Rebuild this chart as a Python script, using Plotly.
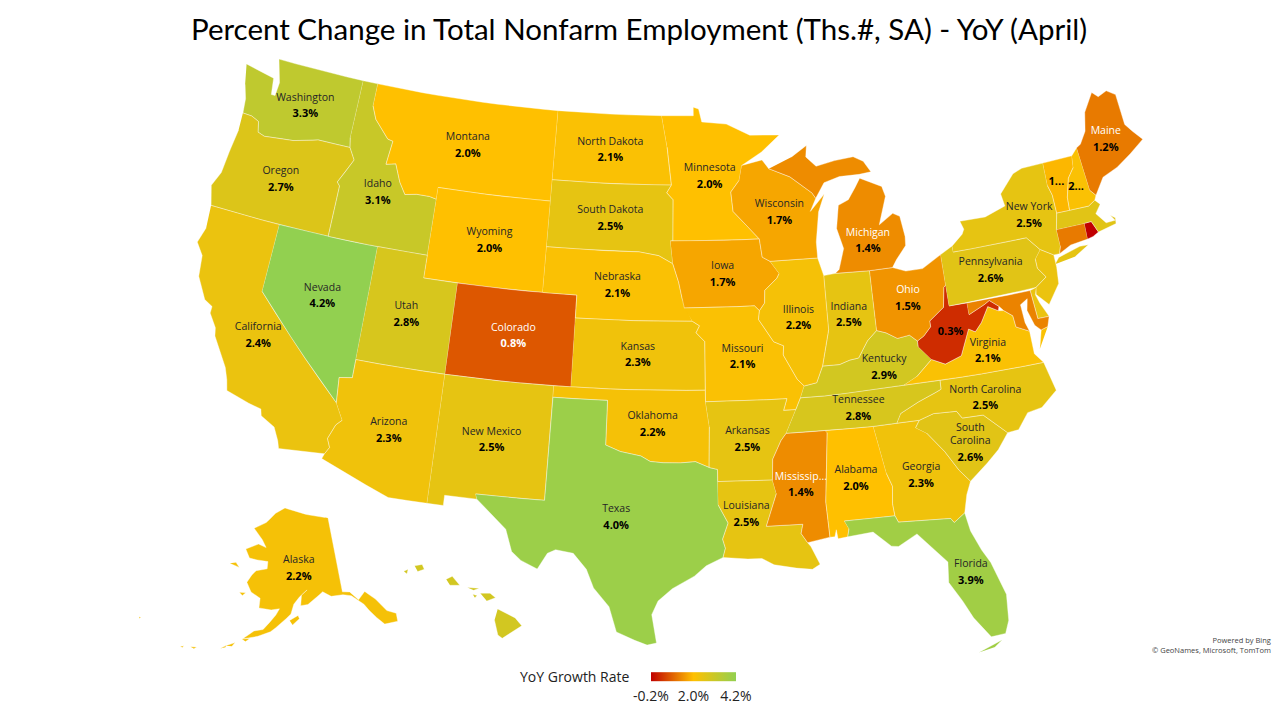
import math
import plotly.graph_objects as go
from plotly.colors import sample_colorscale

# YoY growth by state (small states estimated from their fill)
state_values = {
    "Alabama": 2.0, "Alaska": 2.2, "Arizona": 2.3, "Arkansas": 2.5, "California": 2.4,
    "Colorado": 0.8, "Connecticut": 1.2, "Delaware": 2.4, "Florida": 3.9, "Georgia": 2.3,
    "Hawaii": 2.9, "Idaho": 3.1, "Illinois": 2.2, "Indiana": 2.5, "Iowa": 1.7,
    "Kansas": 2.3, "Kentucky": 2.9, "Louisiana": 2.5, "Maine": 1.2, "Maryland": 1.3,
    "Massachusetts": 2.6, "Michigan": 1.4, "Minnesota": 2.0, "Mississippi": 1.4,
    "Missouri": 2.1, "Montana": 2.0, "Nebraska": 2.1, "Nevada": 4.2, "New Hampshire": 2.1,
    "New Jersey": 2.4, "New Mexico": 2.5, "New York": 2.5, "North Carolina": 2.5,
    "North Dakota": 2.1, "Ohio": 1.5, "Oklahoma": 2.2, "Oregon": 2.7, "Pennsylvania": 2.6,
    "Rhode Island": -0.2, "South Carolina": 2.6, "South Dakota": 2.5, "Tennessee": 2.8,
    "Texas": 4.0, "Utah": 2.8, "Vermont": 1.9, "Virginia": 2.1, "Washington": 3.3,
    "West Virginia": 0.3, "Wisconsin": 1.7, "Wyoming": 2.0,
}

# where each label sits (lon, lat)
label_anchors = {
    "Washington": (-120.3, 47.3), "Oregon": (-120.6, 43.9), "California": (-119.6, 37.1),
    "Nevada": (-116.6, 39.4), "Idaho": (-114.65, 44.3), "Montana": (-109.6, 47.0),
    "Wyoming": (-107.5, 43.0), "Utah": (-111.7, 39.3), "Colorado": (-105.5, 39.0),
    "Arizona": (-111.6, 34.2), "New Mexico": (-106.1, 34.4), "North Dakota": (-100.5, 47.4),
    "South Dakota": (-100.3, 44.4), "Nebraska": (-99.7, 41.5), "Kansas": (-98.4, 38.5),
    "Oklahoma": (-97.5, 35.5), "Texas": (-99.3, 31.4), "Minnesota": (-94.15, 46.3),
    "Iowa": (-93.5, 42.0), "Missouri": (-92.5, 38.4), "Arkansas": (-92.4, 34.8),
    "Louisiana": (-92.6, 31.55), "Wisconsin": (-89.9, 44.6), "Illinois": (-89.2, 39.95),
    "Indiana": (-86.3, 39.9), "Michigan": (-84.7, 43.0), "Ohio": (-82.8, 40.3),
    "Kentucky": (-84.65, 37.45), "Tennessee": (-86.3, 35.8), "Mississippi": (-89.7, 32.7),
    "Alabama": (-86.8, 32.8), "Georgia": (-83.4, 32.6), "Florida": (-81.6, 28.1),
    "South Carolina": (-80.65, 33.4), "North Carolina": (-79.4, 35.5), "Virginia": (-78.8, 37.5),
    "West Virginia": (-80.6, 38.95), "Pennsylvania": (-77.8, 40.9), "New York": (-74.9, 42.9),
    "Maine": (-69.2, 45.3), "Vermont": (-72.7, 44.4), "New Hampshire": (-71.6, 44.0),
}
alaska_anchor = (-152.0, 63.8)

# names the map truncates or drops, and the ones printed in white
shown_names = {"Mississippi": "Mississip...", "West Virginia": "", "Vermont": "", "New Hampshire": "",
               "South Carolina": "South<br>Carolina"}
shown_values = {"Vermont": "1...", "New Hampshire": "2..."}
white_names = ["Colorado", "Maine", "Michigan", "Ohio", "Mississippi"]
white_values = ["Colorado"]

# state outlines, (lon, lat)
WASHINGTON = [(-124.7, 48.38), (-123.1, 48.15), (-122.75, 48.12), (-122.6, 47.4), (-122.35, 47.4), (-122.3, 48.0), (-122.5, 48.4), (-122.76, 49.0), (-117.03, 49.0), (-117.04, 46.42), (-116.92, 45.995), (-118.98, 46.0), (-119.3, 45.93), (-120.5, 45.7), (-121.2, 45.65), (-122.3, 45.55), (-122.75, 45.65), (-122.9, 46.1), (-123.4, 46.25), (-124.0, 46.27), (-124.1, 46.9), (-124.4, 47.5)]
OREGON = [(-124.0, 46.27), (-123.4, 46.25), (-122.9, 46.1), (-122.75, 45.65), (-122.3, 45.55), (-121.2, 45.65), (-120.5, 45.7), (-119.3, 45.93), (-118.98, 46.0), (-116.92, 45.995), (-116.5, 45.5), (-116.85, 44.95), (-117.22, 44.4), (-117.03, 44.25), (-117.03, 42.0), (-124.21, 42.0), (-124.55, 42.84), (-124.2, 43.5), (-124.1, 44.5), (-123.95, 45.5)]
CALIFORNIA = [(-124.21, 42.0), (-120.0, 42.0), (-120.0, 39.0), (-114.63, 35.0), (-114.14, 34.3), (-114.43, 34.05), (-114.72, 33.4), (-114.52, 33.03), (-114.72, 32.72), (-117.12, 32.53), (-117.25, 32.85), (-117.6, 33.4), (-118.4, 33.75), (-118.5, 34.03), (-119.2, 34.15), (-120.5, 34.45), (-120.65, 34.9), (-120.9, 35.4), (-121.9, 36.6), (-122.0, 36.95), (-122.5, 37.5), (-122.5, 37.8), (-123.0, 38.0), (-123.7, 38.9), (-123.85, 39.8), (-124.35, 40.3), (-124.1, 41.0)]
NEVADA = [(-120.0, 42.0), (-114.04, 42.0), (-114.04, 36.2), (-114.75, 36.1), (-114.63, 35.0), (-120.0, 39.0)]
IDAHO = [(-117.03, 49.0), (-116.05, 49.0), (-116.05, 48.0), (-115.7, 47.45), (-114.7, 46.7), (-114.35, 46.65), (-114.5, 45.6), (-113.9, 45.7), (-113.45, 44.95), (-113.0, 44.45), (-112.3, 44.55), (-111.5, 44.55), (-111.05, 44.48), (-111.05, 42.0), (-117.03, 42.0), (-117.03, 44.25), (-117.22, 44.4), (-116.85, 44.95), (-116.5, 45.5), (-116.92, 45.995), (-117.04, 46.42)]
MONTANA = [(-116.05, 49.0), (-104.05, 49.0), (-104.05, 45.0), (-111.05, 45.0), (-111.05, 44.48), (-111.5, 44.55), (-112.3, 44.55), (-113.0, 44.45), (-113.45, 44.95), (-113.9, 45.7), (-114.5, 45.6), (-114.35, 46.65), (-114.7, 46.7), (-115.7, 47.45), (-116.05, 48.0)]
WYOMING = [(-111.05, 45.0), (-104.05, 45.0), (-104.05, 41.0), (-111.05, 41.0)]
UTAH = [(-114.04, 42.0), (-111.05, 42.0), (-111.05, 41.0), (-109.05, 41.0), (-109.05, 37.0), (-114.04, 37.0)]
COLORADO = [(-109.05, 41.0), (-102.05, 41.0), (-102.05, 37.0), (-109.05, 37.0)]
ARIZONA = [(-114.63, 35.0), (-114.75, 36.1), (-114.04, 36.2), (-114.04, 37.0), (-109.05, 37.0), (-109.05, 31.33), (-111.07, 31.33), (-114.81, 32.49), (-114.72, 32.72), (-114.52, 33.03), (-114.72, 33.4), (-114.43, 34.05), (-114.14, 34.3)]
NEW_MEXICO = [(-109.05, 37.0), (-103.0, 37.0), (-103.04, 32.0), (-106.62, 32.0), (-106.53, 31.78), (-108.21, 31.78), (-108.21, 31.33), (-109.05, 31.33)]
NORTH_DAKOTA = [(-104.05, 49.0), (-97.23, 49.0), (-96.85, 47.6), (-96.56, 45.94), (-104.05, 45.94)]
SOUTH_DAKOTA = [(-104.05, 45.94), (-96.56, 45.94), (-96.85, 45.6), (-96.45, 45.3), (-96.45, 43.5), (-96.6, 43.5), (-96.45, 42.5), (-97.3, 42.85), (-98.5, 43.0), (-104.05, 43.0)]
NEBRASKA = [(-104.05, 43.0), (-98.5, 43.0), (-97.3, 42.85), (-96.45, 42.5), (-96.1, 41.7), (-95.9, 41.0), (-95.31, 40.0), (-102.05, 40.0), (-102.05, 41.0), (-104.05, 41.0)]
KANSAS = [(-102.05, 40.0), (-95.31, 40.0), (-94.9, 39.8), (-95.1, 39.5), (-94.61, 39.11), (-94.62, 37.0), (-102.05, 37.0)]
OKLAHOMA = [(-103.0, 37.0), (-94.62, 37.0), (-94.62, 36.5), (-94.43, 35.4), (-94.48, 33.64), (-95.2, 33.9), (-96.0, 33.85), (-96.9, 33.85), (-97.6, 33.9), (-98.1, 34.13), (-99.2, 34.3), (-100.0, 34.56), (-100.0, 36.5), (-103.0, 36.5)]
TEXAS = [(-106.62, 32.0), (-103.04, 32.0), (-103.0, 36.5), (-100.0, 36.5), (-100.0, 34.56), (-99.2, 34.3), (-98.1, 34.13), (-97.6, 33.9), (-96.9, 33.85), (-96.0, 33.85), (-95.2, 33.9), (-94.48, 33.64), (-94.04, 33.55), (-94.04, 32.0), (-93.55, 31.2), (-93.85, 30.5), (-93.72, 30.1), (-93.85, 29.7), (-94.7, 29.35), (-95.3, 28.9), (-96.4, 28.35), (-97.1, 27.8), (-97.4, 27.2), (-97.15, 25.95), (-97.6, 25.85), (-98.2, 26.05), (-99.1, 26.4), (-99.5, 27.5), (-100.3, 28.3), (-100.7, 29.1), (-101.4, 29.77), (-102.3, 29.88), (-102.7, 29.7), (-103.15, 28.98), (-104.0, 29.3), (-104.5, 29.65), (-104.9, 30.6), (-106.0, 31.4), (-106.53, 31.78)]
MINNESOTA = [(-97.23, 49.0), (-95.15, 49.0), (-95.15, 49.38), (-94.8, 49.3), (-94.6, 48.72), (-93.0, 48.6), (-91.5, 48.07), (-89.6, 48.0), (-90.8, 47.3), (-92.1, 46.75), (-92.3, 46.1), (-92.85, 45.6), (-92.75, 44.75), (-91.22, 43.5), (-96.45, 43.5), (-96.45, 45.3), (-96.85, 45.6), (-96.56, 45.94), (-96.85, 47.6)]
IOWA = [(-96.6, 43.5), (-91.22, 43.5), (-91.1, 42.7), (-90.65, 42.5), (-90.15, 41.95), (-90.3, 41.75), (-91.05, 41.25), (-91.1, 40.7), (-91.42, 40.38), (-91.7, 40.6), (-95.77, 40.58), (-95.9, 41.0), (-96.1, 41.7), (-96.45, 42.5)]
MISSOURI = [(-95.77, 40.58), (-91.7, 40.6), (-91.42, 40.38), (-91.5, 40.0), (-90.7, 39.0), (-90.15, 38.8), (-90.2, 38.4), (-89.5, 37.3), (-89.15, 37.0), (-89.4, 36.5), (-89.7, 36.0), (-90.37, 36.0), (-90.15, 36.5), (-94.62, 36.5), (-94.61, 39.11), (-95.1, 39.5), (-94.9, 39.8), (-95.31, 40.0)]
ARKANSAS = [(-94.62, 36.5), (-90.15, 36.5), (-90.37, 36.0), (-89.7, 36.0), (-90.3, 35.0), (-90.6, 34.7), (-91.1, 33.9), (-91.17, 33.0), (-94.04, 33.02), (-94.04, 33.55), (-94.48, 33.64), (-94.43, 35.4)]
LOUISIANA = [(-94.04, 33.02), (-91.17, 33.0), (-91.0, 32.4), (-91.6, 31.0), (-89.73, 31.0), (-89.85, 30.6), (-89.55, 30.18), (-89.4, 30.0), (-89.0, 29.2), (-89.4, 29.0), (-90.2, 29.1), (-91.3, 29.3), (-91.9, 29.6), (-92.6, 29.6), (-93.85, 29.7), (-93.72, 30.1), (-93.85, 30.5), (-93.55, 31.2), (-94.04, 32.0)]
MISSISSIPPI = [(-91.17, 33.0), (-91.1, 33.9), (-90.6, 34.7), (-90.3, 35.0), (-88.2, 35.0), (-88.1, 34.9), (-88.47, 31.9), (-88.4, 30.35), (-89.55, 30.18), (-89.85, 30.6), (-89.73, 31.0), (-91.6, 31.0), (-91.0, 32.4)]
ALABAMA = [(-88.2, 35.0), (-85.6, 34.98), (-85.18, 32.87), (-84.95, 32.3), (-85.05, 31.55), (-85.0, 31.0), (-87.6, 31.0), (-87.4, 30.65), (-87.5, 30.3), (-88.0, 30.25), (-88.05, 30.65), (-88.15, 30.35), (-88.4, 30.35), (-88.47, 31.9), (-88.1, 34.9)]
GEORGIA = [(-85.6, 34.98), (-83.1, 35.0), (-83.35, 34.7), (-82.8, 34.4), (-82.0, 33.5), (-81.4, 32.6), (-80.9, 32.05), (-81.2, 31.5), (-81.45, 30.72), (-82.05, 30.37), (-82.2, 30.57), (-84.86, 30.71), (-85.0, 31.0), (-85.05, 31.55), (-84.95, 32.3), (-85.18, 32.87)]
FLORIDA = [(-87.6, 31.0), (-85.0, 31.0), (-84.86, 30.71), (-82.2, 30.57), (-82.05, 30.37), (-81.45, 30.72), (-81.3, 29.9), (-80.9, 29.0), (-80.55, 28.4), (-80.05, 26.9), (-80.15, 25.75), (-80.4, 25.2), (-81.1, 25.15), (-81.8, 26.1), (-82.2, 26.9), (-82.75, 27.8), (-82.65, 28.7), (-83.4, 29.5), (-84.0, 30.1), (-85.0, 29.65), (-85.35, 29.7), (-86.2, 30.4), (-87.5, 30.3), (-87.4, 30.65)]
FLORIDA_KEYS = [(-81.8, 24.55), (-80.6, 24.95), (-81.0, 24.68)]
SOUTH_CAROLINA = [(-83.35, 34.7), (-83.1, 35.0), (-82.3, 35.2), (-81.05, 35.15), (-80.8, 34.82), (-79.67, 34.8), (-78.55, 33.86), (-79.2, 33.2), (-79.9, 32.7), (-80.9, 32.05), (-81.4, 32.6), (-82.0, 33.5), (-82.8, 34.4)]
NORTH_CAROLINA = [(-84.32, 35.0), (-83.1, 35.0), (-82.3, 35.2), (-81.05, 35.15), (-80.8, 34.82), (-79.67, 34.8), (-78.55, 33.86), (-77.95, 33.9), (-77.3, 34.55), (-76.5, 34.65), (-75.55, 35.25), (-75.9, 36.55), (-81.68, 36.59), (-81.7, 36.2), (-82.0, 36.1), (-83.0, 35.8), (-84.05, 35.4)]
TENNESSEE = [(-90.3, 35.0), (-88.2, 35.0), (-85.6, 34.98), (-84.32, 35.0), (-84.05, 35.4), (-83.0, 35.8), (-82.0, 36.1), (-81.7, 36.2), (-81.68, 36.59), (-83.68, 36.6), (-88.07, 36.5), (-89.4, 36.5), (-89.7, 36.0)]
KENTUCKY = [(-89.4, 36.5), (-88.07, 36.5), (-83.68, 36.6), (-82.9, 36.9), (-81.97, 37.54), (-82.6, 38.17), (-82.6, 38.42), (-83.0, 38.72), (-83.7, 38.65), (-84.3, 38.95), (-84.82, 39.1), (-85.4, 38.7), (-86.0, 38.0), (-86.5, 37.95), (-87.1, 37.8), (-88.05, 37.8), (-88.45, 37.1), (-89.15, 37.0)]
VIRGINIA = [(-83.68, 36.6), (-81.68, 36.59), (-75.9, 36.55), (-76.3, 37.0), (-76.3, 38.0), (-77.0, 38.3), (-77.05, 38.8), (-77.5, 39.1), (-77.8, 39.14), (-78.35, 39.4), (-78.87, 38.77), (-79.3, 38.42), (-79.65, 38.59), (-80.3, 37.5), (-81.25, 37.25), (-81.97, 37.54), (-82.9, 36.9)]
VIRGINIA_SHORE = [(-75.95, 37.15), (-75.65, 37.95), (-75.25, 38.03)]
WEST_VIRGINIA = [(-81.97, 37.54), (-81.25, 37.25), (-80.3, 37.5), (-79.65, 38.59), (-79.3, 38.42), (-78.87, 38.77), (-78.35, 39.4), (-77.8, 39.14), (-77.72, 39.32), (-78.2, 39.65), (-78.5, 39.52), (-79.48, 39.2), (-79.48, 39.72), (-80.52, 39.72), (-80.52, 40.64), (-80.65, 40.55), (-80.85, 39.7), (-81.75, 39.2), (-81.75, 38.95), (-82.2, 38.6), (-82.6, 38.42), (-82.6, 38.17)]
OHIO = [(-84.82, 41.72), (-83.45, 41.73), (-82.7, 41.5), (-81.7, 41.5), (-80.52, 41.98), (-80.52, 40.64), (-80.65, 40.55), (-80.85, 39.7), (-81.75, 39.2), (-81.75, 38.95), (-82.2, 38.6), (-82.6, 38.42), (-83.0, 38.72), (-83.7, 38.65), (-84.3, 38.95), (-84.82, 39.1)]
INDIANA = [(-87.53, 41.71), (-86.82, 41.76), (-84.82, 41.72), (-84.82, 39.1), (-85.4, 38.7), (-86.0, 38.0), (-86.5, 37.95), (-87.1, 37.8), (-88.05, 37.8), (-87.53, 39.35)]
ILLINOIS = [(-90.65, 42.5), (-87.8, 42.5), (-87.53, 41.71), (-87.53, 39.35), (-88.05, 37.8), (-88.45, 37.1), (-89.15, 37.0), (-89.5, 37.3), (-90.2, 38.4), (-90.15, 38.8), (-90.7, 39.0), (-91.5, 40.0), (-91.42, 40.38), (-91.1, 40.7), (-91.05, 41.25), (-90.3, 41.75), (-90.15, 41.95)]
WISCONSIN = [(-92.1, 46.75), (-90.8, 46.95), (-90.4, 46.55), (-89.1, 46.13), (-87.8, 45.35), (-87.6, 45.1), (-88.0, 44.55), (-87.05, 45.25), (-87.5, 44.5), (-87.8, 43.2), (-87.8, 42.5), (-90.65, 42.5), (-91.1, 42.7), (-91.22, 43.5), (-92.75, 44.75), (-92.85, 45.6), (-92.3, 46.1)]
MICHIGAN_LOWER = [(-86.82, 41.76), (-84.82, 41.72), (-83.45, 41.73), (-83.15, 42.05), (-82.5, 42.6), (-82.45, 43.0), (-82.6, 43.9), (-83.0, 44.07), (-83.9, 43.65), (-83.3, 44.85), (-83.45, 45.3), (-84.75, 45.78), (-85.1, 45.4), (-85.6, 44.9), (-86.25, 44.7), (-86.5, 43.7), (-86.2, 42.8), (-86.6, 41.9)]
MICHIGAN_UPPER = [(-90.4, 46.55), (-89.1, 46.13), (-87.8, 45.35), (-87.6, 45.1), (-87.0, 45.75), (-86.0, 45.95), (-84.75, 45.95), (-84.0, 46.0), (-84.4, 46.5), (-85.0, 46.75), (-86.2, 46.67), (-87.4, 46.5), (-88.0, 46.95), (-87.9, 47.45), (-88.9, 47.0)]
PENNSYLVANIA = [(-80.52, 41.98), (-79.76, 42.27), (-79.76, 42.0), (-75.35, 42.0), (-74.7, 41.36), (-75.1, 41.0), (-75.1, 40.6), (-74.72, 40.15), (-75.42, 39.8), (-80.52, 39.72)]
NEW_YORK = [(-79.76, 42.27), (-79.05, 42.7), (-78.9, 42.9), (-79.05, 43.27), (-77.5, 43.25), (-76.2, 43.55), (-76.3, 44.1), (-75.3, 44.85), (-74.7, 45.0), (-73.35, 45.01), (-73.4, 44.0), (-73.25, 43.55), (-73.25, 42.75), (-73.5, 42.05), (-73.5, 41.3), (-73.65, 41.0), (-74.0, 41.0), (-74.7, 41.36), (-75.35, 42.0), (-79.76, 42.0)]
LONG_ISLAND = [(-74.05, 40.6), (-73.75, 40.85), (-72.4, 41.1), (-71.9, 41.07), (-72.8, 40.72)]
NEW_JERSEY = [(-74.7, 41.36), (-74.0, 41.0), (-74.0, 40.45), (-74.1, 39.75), (-74.9, 38.95), (-75.5, 39.5), (-75.42, 39.8), (-74.72, 40.15), (-75.1, 40.6), (-75.1, 41.0)]
DELAWARE = [(-75.42, 39.8), (-75.79, 39.72), (-75.7, 38.46), (-75.05, 38.45), (-75.4, 39.1), (-75.55, 39.5)]
MARYLAND = [(-79.48, 39.72), (-75.79, 39.72), (-75.7, 38.46), (-75.05, 38.45), (-75.25, 38.03), (-75.65, 37.95), (-75.95, 38.2), (-76.2, 38.9), (-76.05, 39.4), (-76.5, 39.2), (-76.45, 38.4), (-76.3, 38.0), (-77.0, 38.3), (-77.05, 38.8), (-77.5, 39.1), (-77.72, 39.32), (-78.2, 39.65), (-78.5, 39.52), (-79.48, 39.2)]
CONNECTICUT = [(-73.5, 42.05), (-71.8, 42.02), (-71.85, 41.32), (-72.9, 41.25), (-73.65, 41.0), (-73.5, 41.3)]
RHODE_ISLAND = [(-71.8, 42.02), (-71.38, 42.02), (-71.13, 41.5), (-71.5, 41.37), (-71.85, 41.32)]
MASSACHUSETTS = [(-73.5, 42.05), (-73.25, 42.75), (-71.3, 42.7), (-70.85, 42.88), (-70.6, 42.65), (-71.0, 42.3), (-70.55, 41.8), (-70.0, 41.8), (-70.2, 42.07), (-69.95, 41.9), (-70.0, 41.65), (-70.65, 41.55), (-71.13, 41.5), (-71.38, 42.02), (-71.8, 42.02)]
VERMONT = [(-73.35, 45.01), (-71.5, 45.01), (-71.6, 44.5), (-72.05, 44.1), (-72.4, 43.3), (-72.46, 42.73), (-73.25, 42.75), (-73.25, 43.55), (-73.4, 44.0)]
NEW_HAMPSHIRE = [(-71.5, 45.01), (-71.08, 45.3), (-70.98, 43.35), (-70.7, 43.07), (-70.85, 42.88), (-71.3, 42.7), (-72.46, 42.73), (-72.4, 43.3), (-72.05, 44.1), (-71.6, 44.5)]
MAINE = [(-71.08, 45.3), (-70.8, 45.4), (-70.3, 45.9), (-70.0, 46.7), (-69.23, 47.46), (-68.9, 47.2), (-68.3, 47.35), (-67.8, 47.07), (-67.8, 45.7), (-67.45, 45.3), (-67.0, 44.85), (-68.0, 44.4), (-69.0, 44.0), (-70.0, 43.75), (-70.7, 43.07), (-70.98, 43.35)]

ALASKA_MAIN = [(-141.0, 69.65), (-141.0, 60.3), (-139.2, 60.1), (-137.5, 58.9), (-135.5, 59.7), (-133.5, 58.4), (-131.8, 56.6), (-130.0, 55.9), (-130.3, 54.9), (-131.5, 55.0), (-133.2, 55.1), (-134.5, 56.2), (-135.7, 57.3), (-136.5, 58.2), (-139.0, 59.6), (-141.0, 59.95), (-144.0, 60.0), (-146.0, 60.7), (-148.0, 60.0), (-150.0, 59.3), (-151.8, 59.2), (-151.5, 60.5), (-150.0, 61.1), (-152.0, 60.3), (-153.5, 59.4), (-154.2, 58.2), (-156.5, 57.0), (-158.8, 55.9), (-161.5, 55.2), (-164.8, 54.6), (-162.5, 55.8), (-160.5, 56.1), (-157.8, 58.0), (-157.0, 58.8), (-159.0, 58.6), (-162.0, 58.7), (-162.0, 59.9), (-164.5, 60.5), (-166.0, 61.6), (-165.0, 62.6), (-164.0, 63.2), (-161.0, 63.6), (-161.0, 64.5), (-163.0, 64.5), (-166.5, 64.6), (-168.1, 65.6), (-164.5, 66.5), (-162.0, 66.2), (-163.5, 67.1), (-166.8, 68.35), (-163.0, 69.3), (-160.0, 70.6), (-156.6, 71.35), (-152.0, 70.85), (-148.0, 70.4)]
KODIAK = [(-154.5, 57.4), (-152.5, 58.0), (-152.2, 57.6), (-153.8, 56.85)]
ST_LAWRENCE = [(-171.7, 63.4), (-168.8, 63.2), (-170.0, 63.7)]
NUNIVAK = [(-167.4, 60.2), (-165.8, 60.3), (-166.5, 59.9)]
UNIMAK = [(-164.9, 54.6), (-163.2, 54.8), (-164.0, 54.35)]
UNALASKA = [(-168.0, 53.4), (-166.2, 54.0), (-166.7, 53.5)]
UMNAK = [(-169.0, 52.9), (-167.8, 53.5), (-168.0, 53.2)]
ATKA = [(-175.0, 52.1), (-173.8, 52.3), (-174.2, 52.0)]
ADAK = [(-177.0, 51.7), (-176.4, 51.95), (-176.5, 51.7)]
ATTU = [(-187.2, 52.95), (-186.8, 53.0), (-186.9, 52.8)]

BIG_ISLAND = [(-155.9, 20.25), (-155.1, 19.85), (-154.8, 19.5), (-155.7, 18.95), (-155.9, 19.1), (-156.05, 19.75)]
MAUI = [(-156.7, 20.95), (-156.25, 20.95), (-156.0, 20.75), (-156.4, 20.6)]
MOLOKAI = [(-157.3, 21.2), (-156.75, 21.17), (-157.0, 21.08)]
LANAI = [(-157.05, 20.9), (-156.85, 20.85), (-156.95, 20.75)]
OAHU = [(-158.28, 21.57), (-158.0, 21.7), (-157.65, 21.3), (-158.1, 21.3)]
KAUAI = [(-159.75, 22.15), (-159.4, 22.22), (-159.3, 22.0), (-159.6, 21.9)]
NIIHAU = [(-160.25, 21.9), (-160.05, 22.0), (-160.1, 21.8)]

mainland_parts = {
    "Washington": [WASHINGTON], "Oregon": [OREGON], "California": [CALIFORNIA], "Nevada": [NEVADA],
    "Idaho": [IDAHO], "Montana": [MONTANA], "Wyoming": [WYOMING], "Utah": [UTAH], "Colorado": [COLORADO],
    "Arizona": [ARIZONA], "New Mexico": [NEW_MEXICO], "North Dakota": [NORTH_DAKOTA],
    "South Dakota": [SOUTH_DAKOTA], "Nebraska": [NEBRASKA], "Kansas": [KANSAS], "Oklahoma": [OKLAHOMA],
    "Texas": [TEXAS], "Minnesota": [MINNESOTA], "Iowa": [IOWA], "Missouri": [MISSOURI],
    "Arkansas": [ARKANSAS], "Louisiana": [LOUISIANA], "Mississippi": [MISSISSIPPI], "Alabama": [ALABAMA],
    "Georgia": [GEORGIA], "Florida": [FLORIDA, FLORIDA_KEYS], "South Carolina": [SOUTH_CAROLINA],
    "North Carolina": [NORTH_CAROLINA], "Tennessee": [TENNESSEE], "Kentucky": [KENTUCKY],
    "Virginia": [VIRGINIA, VIRGINIA_SHORE], "West Virginia": [WEST_VIRGINIA], "Ohio": [OHIO],
    "Indiana": [INDIANA], "Illinois": [ILLINOIS], "Wisconsin": [WISCONSIN],
    "Michigan": [MICHIGAN_LOWER, MICHIGAN_UPPER], "Pennsylvania": [PENNSYLVANIA],
    "New York": [NEW_YORK, LONG_ISLAND], "New Jersey": [NEW_JERSEY], "Delaware": [DELAWARE],
    "Maryland": [MARYLAND], "Connecticut": [CONNECTICUT], "Rhode Island": [RHODE_ISLAND],
    "Massachusetts": [MASSACHUSETTS], "Vermont": [VERMONT], "New Hampshire": [NEW_HAMPSHIRE], "Maine": [MAINE],
}
alaska_parts = [ALASKA_MAIN, KODIAK, ST_LAWRENCE, NUNIVAK, UNIMAK, UNALASKA, UMNAK, ATKA, ADAK, ATTU]
hawaii_parts = [BIG_ISLAND, MAUI, MOLOKAI, LANAI, OAHU, KAUAI, NIIHAU]

colorscale = [[0, "#C00000"], [0.5, "#FFC000"], [1, "#92D050"]]
cmin, cmax = -0.2, 4.2
LOWER48 = (29.5, 45.5, -96.0, 37.5)
ALASKA = (55.0, 65.0, -154.0, 50.0)
HAWAII = (8.0, 18.0, -157.0, 13.0)


def albers(lon, lat, cone):
    p1, p2, lon0, lat0 = cone
    s1 = math.sin(math.radians(p1))
    n = (s1 + math.sin(math.radians(p2))) / 2
    c = math.cos(math.radians(p1)) ** 2 + 2 * n * s1
    rho = math.sqrt(c - 2 * n * math.sin(math.radians(lat))) / n
    rho0 = math.sqrt(c - 2 * n * math.sin(math.radians(lat0))) / n
    theta = math.radians(n * (lon - lon0))
    return rho * math.sin(theta), rho0 - rho * math.cos(theta)


def outline_xy(parts, cone):
    # split long edges so straight borders like the 49th parallel follow the cone
    xs, ys = [], []
    for ring in parts:
        for (lon1, lat1), (lon2, lat2) in zip(ring, ring[1:] + ring[:1]):
            steps = max(1, int(abs(lon2 - lon1)))
            for i in range(steps):
                x, y = albers(lon1 + (lon2 - lon1) * i / steps, lat1 + (lat2 - lat1) * i / steps, cone)
                xs.append(x)
                ys.append(y)
        xs.append(None)
        ys.append(None)
    return xs, ys


def fill_for(state):
    return sample_colorscale(colorscale, (state_values[state] - cmin) / (cmax - cmin))[0]


def add_state(fig, state, parts, cone, axes):
    x, y = outline_xy(parts, cone)
    fig.add_trace(go.Scatter(x=x, y=y, mode="lines", fill="toself", fillcolor=fill_for(state),
                             line=dict(color="rgba(255,255,255,0.55)", width=0.7),
                             hoverinfo="skip", showlegend=False, xaxis=axes[0], yaxis=axes[1]))


fig = go.Figure()
for state, parts in mainland_parts.items():
    add_state(fig, state, parts, LOWER48, ("x", "y"))
add_state(fig, "Alaska", alaska_parts, ALASKA, ("x2", "y2"))
add_state(fig, "Hawaii", hawaii_parts, HAWAII, ("x3", "y3"))


def add_labels(fig, states, anchors, cone, axes):
    pts = [albers(*anchors[s], cone) for s in states]
    x = [p[0] for p in pts]
    y = [p[1] for p in pts]
    names = [shown_names.get(s, s) for s in states]
    values = [shown_values.get(s, f"{state_values[s]:.1f}%") for s in states]
    # clear markers keep the name and the value apart
    spacer = dict(size=3, opacity=0)
    fig.add_trace(go.Scatter(x=x, y=y, mode="markers+text", text=names, textposition="top center", marker=spacer,
                             textfont=dict(family="Open Sans", size=10.5,
                                           color=["white" if s in white_names else "#262626" for s in states]),
                             hoverinfo="skip", showlegend=False, xaxis=axes[0], yaxis=axes[1]))
    fig.add_trace(go.Scatter(x=x, y=y, mode="markers+text", text=[f"<b>{v}</b>" for v in values],
                             textposition="bottom center", marker=spacer,
                             textfont=dict(family="Open Sans", size=11,
                                           color=["white" if s in white_values else "black" for s in states]),
                             hoverinfo="skip", showlegend=False, xaxis=axes[0], yaxis=axes[1]))


add_labels(fig, list(label_anchors), label_anchors, LOWER48, ("x", "y"))
add_labels(fig, ["Alaska"], {"Alaska": alaska_anchor}, ALASKA, ("x2", "y2"))

# invisible markers, only here to get the colour bar
fig.add_trace(go.Scatter(
    x=[0, 0, 0], y=[0, 0, 0], mode="markers", hoverinfo="skip", showlegend=False,
    marker=dict(size=1, opacity=0, color=[cmin, 2.0, cmax], colorscale=colorscale, cmin=cmin, cmax=cmax,
                colorbar=dict(orientation="h", x=0.5389, xanchor="center", y=0.0197, yanchor="bottom",
                              thickness=9, len=85, lenmode="pixels", outlinewidth=0, xpad=0, ypad=0,
                              tickmode="array", tickvals=[-0.2, 2.0, 4.2],
                              ticktext=["-0.2%", "2.0%", "4.2%"], ticks="outside", ticklen=4,
                              tickcolor="rgba(0,0,0,0)",
                              tickfont=dict(family="Open Sans", size=14, color="#222222"))),
))

# the page has an 8px body margin, so the figure is 8px short of the window
hidden = dict(visible=False, fixedrange=True)
fig.update_layout(
    width=1272, height=712, margin=dict(l=0, r=0, t=0, b=0),
    paper_bgcolor="white", plot_bgcolor="white",
    title=dict(text="Percent Change in Total Nonfarm Employment (Ths.#, SA) - YoY (April)",
               x=0.4961, xanchor="center", y=0.9691, yanchor="middle",
               font=dict(family="Lato", size=29.5, color="black")),
    xaxis=dict(range=[-0.5129, 0.4574], **hidden),
    yaxis=dict(range=[-0.2610, 0.2838], **hidden),
    xaxis2=dict(range=[-0.6237, 2.172], overlaying="x", **hidden),
    yaxis2=dict(range=[-0.0862, 1.4516], overlaying="y", **hidden),
    xaxis3=dict(range=[-0.3529, 0.6107], overlaying="x", **hidden),
    yaxis3=dict(range=[0.0413, 0.5890], overlaying="y", **hidden),
    annotations=[
        dict(text="YoY Growth Rate", xref="paper", yref="paper", x=0.4906, y=0.0604, xanchor="right",
             yanchor="middle", showarrow=False, font=dict(family="Open Sans", size=14, color="#222222")),
        dict(text="Powered by Bing<br>© GeoNames, Microsoft, TomTom", xref="paper", yref="paper", x=0.9945, y=0.1053,
             xanchor="right", yanchor="middle", align="right", showarrow=False,
             font=dict(family="Open Sans", size=7.5, color="#444444")),
    ],
)

fig.write_html("out.html")
